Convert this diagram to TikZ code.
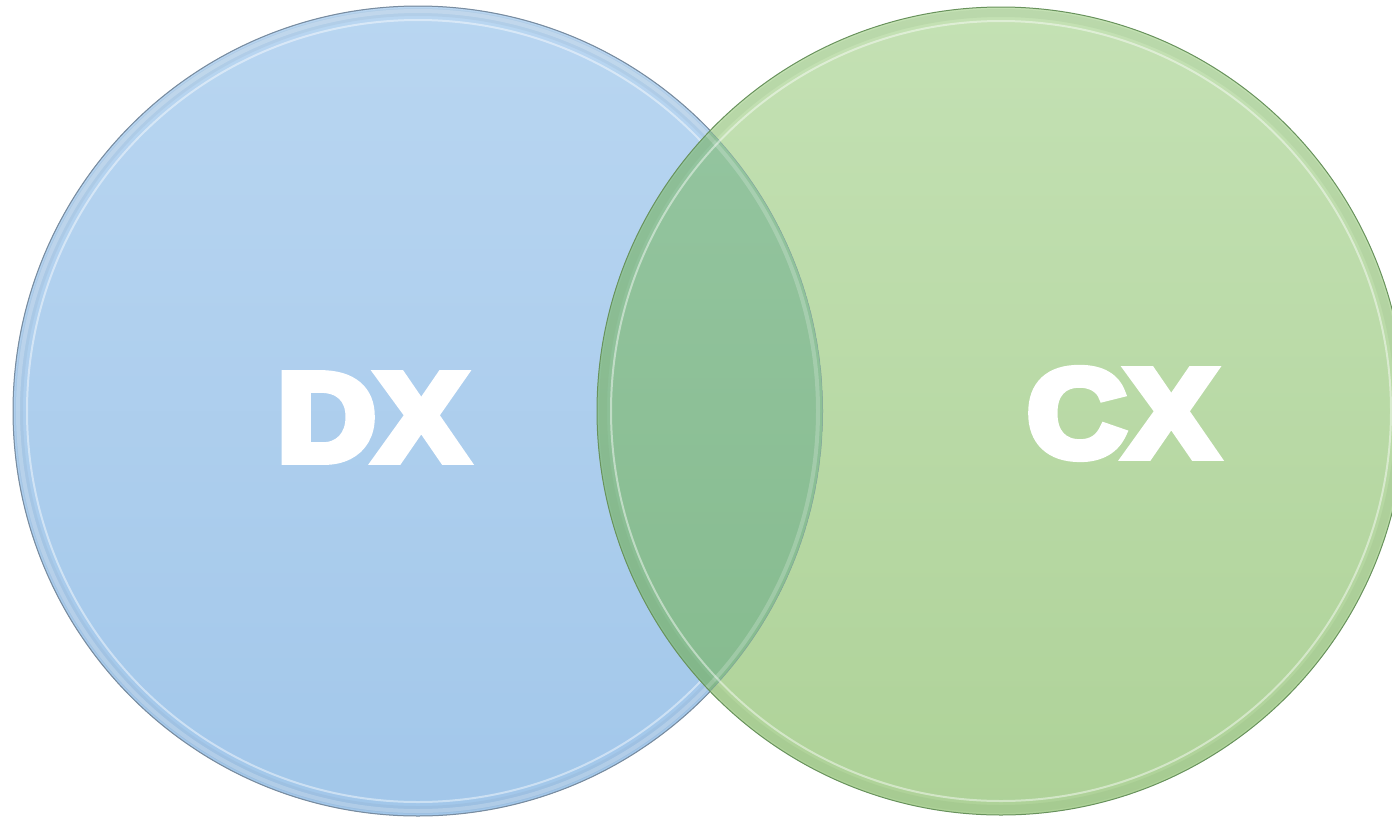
\documentclass[tikz,border=0pt]{standalone}
\usepackage{fontspec}
\newfontfamily\rotulofonte{Liberation Sans Bold}[FakeBold=7]

\definecolor{azulA}{RGB}{185,214,241}
\definecolor{azulB}{RGB}{162,199,234}
\definecolor{azulBorda}{RGB}{120,140,160}
\definecolor{verdeA}{RGB}{196,225,180}
\definecolor{verdeB}{RGB}{174,210,152}
\definecolor{verdeBorda}{RGB}{104,146,92}
\definecolor{mistoA}{RGB}{150,198,162}
\definecolor{mistoB}{RGB}{132,186,140}

\begin{document}
\begin{tikzpicture}[x=1pt, y=-1pt,
    disco/.style={line width=1pt},
    brilho/.style={white, line width=2pt, opacity=0.45},
    sombra/.style={line width=8pt, opacity=0.1},
    rotulo/.style={text=white, inner sep=0pt, text height=91pt, text depth=0pt,
        xscale=1.09, font=\rotulofonte\fontsize{125}{125}\selectfont}]
    \useasboundingbox (0,0) rectangle (1392,817);

    % Circulo azul
    \shade[top color=azulA, bottom color=azulB] (418,411) circle (405);
    \draw[sombra, azulBorda] (418,411) circle (399);
    \draw[brilho] (418,411) circle (391);
    \draw[disco, azulBorda] (418,411) circle (405);

    % Circulo verde
    \shade[top color=verdeA, bottom color=verdeB] (1001,411) circle (404);

    % Intersecao
    \begin{scope}
        \clip (418,411) circle (405);
        \shade[top color=mistoA, bottom color=mistoB] (1001,411) circle (404);
        \draw[line width=4pt, white, opacity=0.2] (418,411) circle (400);
        \draw[disco, azulBorda, opacity=0.5] (418,411) circle (405);
    \end{scope}

    % Bordas do verde
    \draw[sombra, verdeBorda] (1001,411) circle (398);
    \draw[brilho] (1001,411) circle (390);
    \draw[disco, verdeBorda] (1001,411) circle (404);

    % Rotulos
    \node[rotulo] (dx) at (372,415) {DX};
    \node[rotulo] (cx) at (1122,411) {CX};
\end{tikzpicture}
\end{document}
